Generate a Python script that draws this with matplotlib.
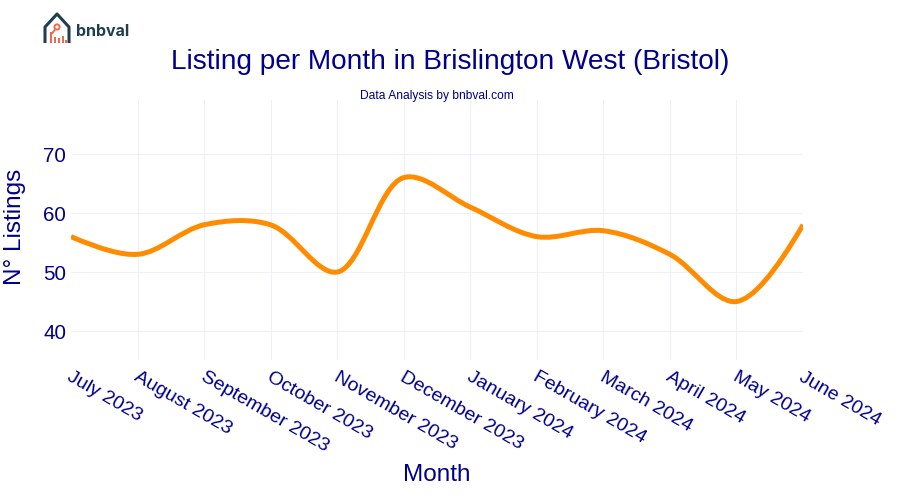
import matplotlib
matplotlib.use("Agg")
import matplotlib.pyplot as plt
import numpy as np
from matplotlib.path import Path
from matplotlib.patches import PathPatch, Circle, Rectangle
from matplotlib.transforms import ScaledTranslation

plt.rcParams['font.family'] = ['Liberation Sans', 'DejaVu Sans']

months = ["July 2023", "August 2023", "September 2023", "October 2023", "November 2023",
          "December 2023", "January 2024", "February 2024", "March 2024", "April 2024",
          "May 2024", "June 2024"]
listings = [56, 53, 58, 58, 50, 66, 61, 56, 57, 53, 45, 58]
y_ticks = [40, 50, 60, 70]

navy = "#00008B"
orange = "#FF8C00"
grid_col = "#EEF0F8"
W, H = 900, 500


def tangent(prev, this, nxt, smooth=1.0):
    # same tangent rule as a plotly spline line
    d1 = prev - this
    d2 = nxt - this
    a1 = np.hypot(d1[0], d1[1]) ** 0.5
    a2 = np.hypot(d2[0], d2[1]) ** 0.5
    num = (a2 * a2 * d1 - a1 * a1 * d2) * smooth
    return this + num / (3 * a2 * (a1 + a2)), this - num / (3 * a1 * (a1 + a2))


fig = plt.figure(figsize=(9, 5), dpi=100)
ax = fig.add_axes([71 / W, 1 - 360 / H, (803 - 71) / W, 260 / H])
x = np.arange(len(months))
ax.set_xlim(0, len(months) - 1)
ax.set_ylim(35.1, 79.15)

ax.grid(True, color=grid_col, linewidth=0.8)
ax.set_axisbelow(True)
for s in ax.spines.values():
    s.set_visible(False)
ax.tick_params(length=0)
ax.set_yticks(y_ticks)
ax.set_xticks(x)
ax.set_yticklabels(y_ticks, fontsize=14.8, color=navy)
ax.tick_params(axis='y', pad=3.5)
ax.set_xticklabels(months, fontsize=14, color=navy, rotation=-30, ha="left", va="top",
                   rotation_mode="anchor")
ax.tick_params(axis='x', pad=6)
shift = ScaledTranslation(2 / 72 * 0.72, 0, fig.dpi_scale_trans)
for lab in ax.get_xticklabels():
    lab.set_transform(lab.get_transform() + shift)
# no gridline on the two ends
xgrid = ax.get_xgridlines()
xgrid[0].set_visible(False)
xgrid[-1].set_visible(False)

# spline through the data, built in pixel space
pts = ax.transData.transform(np.column_stack([x, listings]))
tans = [tangent(pts[i - 1], pts[i], pts[i + 1]) for i in range(1, len(pts) - 1)]
verts = [pts[0], tans[0][0], pts[1]]
codes = [Path.MOVETO, Path.CURVE3, Path.CURVE3]
for i in range(1, len(pts) - 2):
    verts += [tans[i - 1][1], tans[i][0], pts[i + 1]]
    codes += [Path.CURVE4] * 3
verts += [tans[-1][1], pts[-1]]
codes += [Path.CURVE3, Path.CURVE3]
line = PathPatch(Path(verts, codes), facecolor="none", edgecolor=orange, linewidth=3.6,
                 transform=None, capstyle="butt", joinstyle="round")
ax.add_patch(line)
line.set_clip_box(ax.bbox)

fig.text(450 / W, 1 - 62 / H, "Listing per Month in Brislington West (Bristol)", fontsize=20.2,
         color=navy, ha="center", va="center")
fig.text(437 / W, 1 - 96 / H, "Data Analysis by bnbval.com", fontsize=8.65, color=navy,
         ha="center", va="center")
fig.text(437 / W, 1 - 475 / H, "Month", fontsize=17.5, color=navy, ha="center", va="center")
fig.text(15 / W, 1 - 227 / H, "N° Listings", fontsize=17.5, color=navy, ha="center", va="center",
         rotation=90)

# logo, drawn on an overlay in pixel units
logo = fig.add_axes([0, 0, 1, 1], facecolor="none")
logo.set_xlim(0, W)
logo.set_ylim(H, 0)
logo.axis("off")
teal = "#1E3F4F"
coral = "#F0694F"
logo.plot([45, 45, 57, 69, 69], [43, 27, 14, 27, 43], color=teal, lw=2.2, solid_joinstyle="round",
          solid_capstyle="butt")
logo.add_patch(Circle((57, 27), 2.6, fill=False, edgecolor=coral, lw=1.4))
logo.plot([55, 52.5], [29.5, 33], color=coral, lw=1.4)
for bx, bh in zip([49.5, 53.5, 57.5, 61.5, 65], [11, 6, 5, 7, 3]):
    logo.add_patch(Rectangle((bx, 43 - bh), 2.4, bh, color=coral, lw=0))
logo.text(76, 31, "bnbval", fontsize=11.5, fontweight="bold", color=teal, family="Inter",
          ha="left", va="center")

fig.savefig("out.png", dpi=100)
